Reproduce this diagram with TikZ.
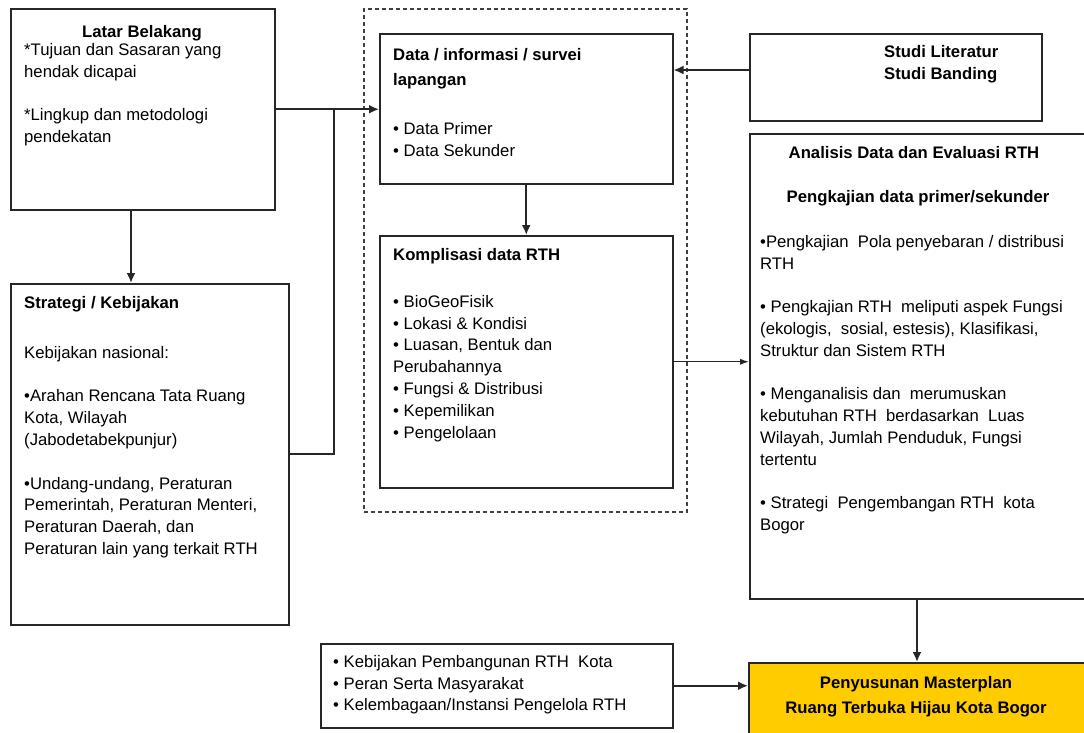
\documentclass[tikz,border=0pt]{standalone}
\usepackage{fontspec}
\setmainfont{Liberation Sans}
\usetikzlibrary{arrows.meta}
\definecolor{gold}{HTML}{FFCC00}
\begin{document}
\begin{tikzpicture}[x=1pt,y=-1pt,
  box/.style={draw=black!85, line width=1.5pt, rectangle, inner sep=0pt, anchor=north west},
  grpbox/.style={draw=black!75, line width=1.5pt, dash pattern=on 4pt off 3pt, rectangle, inner sep=0pt, anchor=north west},
  txt/.style={inner sep=0pt, anchor=north west, align=left, font=\fontsize{16.7}{21.8}\selectfont},
  btxt/.style={txt, font=\fontsize{16.7}{22}\selectfont\bfseries},
  ctitle/.style={inner sep=0pt, anchor=base, font=\fontsize{16.7}{22}\selectfont\bfseries},
  conn/.style={line width=2pt, draw=black!85},
  connthin/.style={line width=1pt, draw=black!85},
  arr/.style={-{Latex[length=10pt,width=9pt]}},
  arrthin/.style={-{Latex[length=9pt,width=6pt]}},
]
\clip (0,0) rectangle (1084,732);
\fill[white] (0,0) rectangle (1084,732);

% group box
\node[grpbox, minimum width=323, minimum height=503] (grp) at (363,8) {};

% Latar Belakang
\node[box, minimum width=264, minimum height=201] (lb) at (10,8) {};
\node[ctitle] (lbt) at (142,37) {Latar Belakang};
\node[txt] (lbb) at (24,43) {*Tujuan dan Sasaran yang\\hendak dicapai\\[21.8pt]*Lingkup dan metodologi\\pendekatan};

% Strategi / Kebijakan
\node[box, minimum width=278, minimum height=341] (sk) at (10,283) {};
\node[btxt] (skt) at (24,296) {Strategi / Kebijakan};
\node[txt] (skb) at (24,346) {Kebijakan nasional:\\[21.8pt]%
\textbullet Arahan Rencana Tata Ruang\\Kota, Wilayah\\(Jabodetabekpunjur)\\[21.8pt]%
\textbullet Undang-undang, Peraturan\\Pemerintah, Peraturan Menteri,\\Peraturan Daerah, dan\\Peraturan lain yang terkait RTH};

% Data / informasi
\node[box, minimum width=293, minimum height=150] (data) at (379,33) {};
\node[btxt, font=\fontsize{16.7}{25}\selectfont\bfseries] (datat) at (393,48) {Data / informasi / survei\\lapangan};
\node[txt] (datab) at (393,122) {\textbullet\ Data Primer\\\textbullet\ Data Sekunder};

% Komplisasi
\node[box, minimum width=293, minimum height=252] (komp) at (379,235) {};
\node[btxt] (kompt) at (393,248) {Komplisasi data RTH};
\node[txt] (kompb) at (393,295) {\textbullet\ BioGeoFisik\\\textbullet\ Lokasi \& Kondisi\\\textbullet\ Luasan, Bentuk dan\\Perubahannya\\\textbullet\ Fungsi \& Distribusi\\\textbullet\ Kepemilikan\\\textbullet\ Pengelolaan};

% Studi
\node[box, minimum width=292, minimum height=87] (studi) at (749,33) {};
\node[btxt] (studit) at (884,45) {Studi Literatur\\Studi Banding};

% Analisis
\node[box, minimum width=345, minimum height=465] (ana) at (749,133) {};
\node[ctitle] (anat) at (914,158) {Analisis Data dan Evaluasi RTH};
\node[ctitle] (anas) at (918,202) {Pengkajian data primer/sekunder};
\node[txt] (anab) at (760,235) {\textbullet Pengkajian\ \ Pola penyebaran / distribusi\\RTH\\[21.8pt]%
\textbullet\ Pengkajian RTH\ \ meliputi aspek Fungsi\\(ekologis,\ \ sosial, estesis), Klasifikasi,\\Struktur dan Sistem RTH\\[21.8pt]%
\textbullet\ Menganalisis dan\ \ merumuskan\\kebutuhan RTH\ \ berdasarkan\ \ Luas\\Wilayah, Jumlah Penduduk, Fungsi\\tertentu\\[21.8pt]%
\textbullet\ Strategi\ \ Pengembangan RTH\ \ kota\\Bogor};

% Kebijakan bottom
\node[box, minimum width=352, minimum height=84] (keb) at (320,643) {};
\node[txt] (kebb) at (333,655) {\textbullet\ Kebijakan Pembangunan RTH\ \ Kota\\\textbullet\ Peran Serta Masyarakat\\\textbullet\ Kelembagaan/Instansi Pengelola RTH};

% Penyusunan
\node[box, fill=gold, minimum width=342, minimum height=80] (pen) at (748,662) {};
\node[ctitle] (pent1) at (916,688) {Penyusunan Masterplan};
\node[ctitle] (pent2) at (916,713) {Ruang Terbuka Hijau Kota Bogor};

% connectors
\coordinate (jx) at (334,0);
\coordinate (ax) at (131,0);
\coordinate (sy) at (0,70);
\coordinate (dx) at (917,0);
\draw[conn,arr] (lb.east) -- (lb.east -| data.west);
\draw[conn] (sk.east) -- (sk.east -| jx) -- (jx |- lb.east);
\draw[conn,arr] (lb.south -| ax) -- (sk.north -| ax);
\draw[conn,arr] (data.south) -- (komp.north);
\draw[conn,arr] (studi.west |- sy) -- (data.east |- sy);
\draw[connthin,arrthin] (komp.east) -- (komp.east -| ana.west);
\draw[conn,arr] (ana.south -| dx) -- (pen.north -| dx);
\draw[conn,arr] (keb.east) -- (keb.east -| pen.west);
\end{tikzpicture}
\end{document}
